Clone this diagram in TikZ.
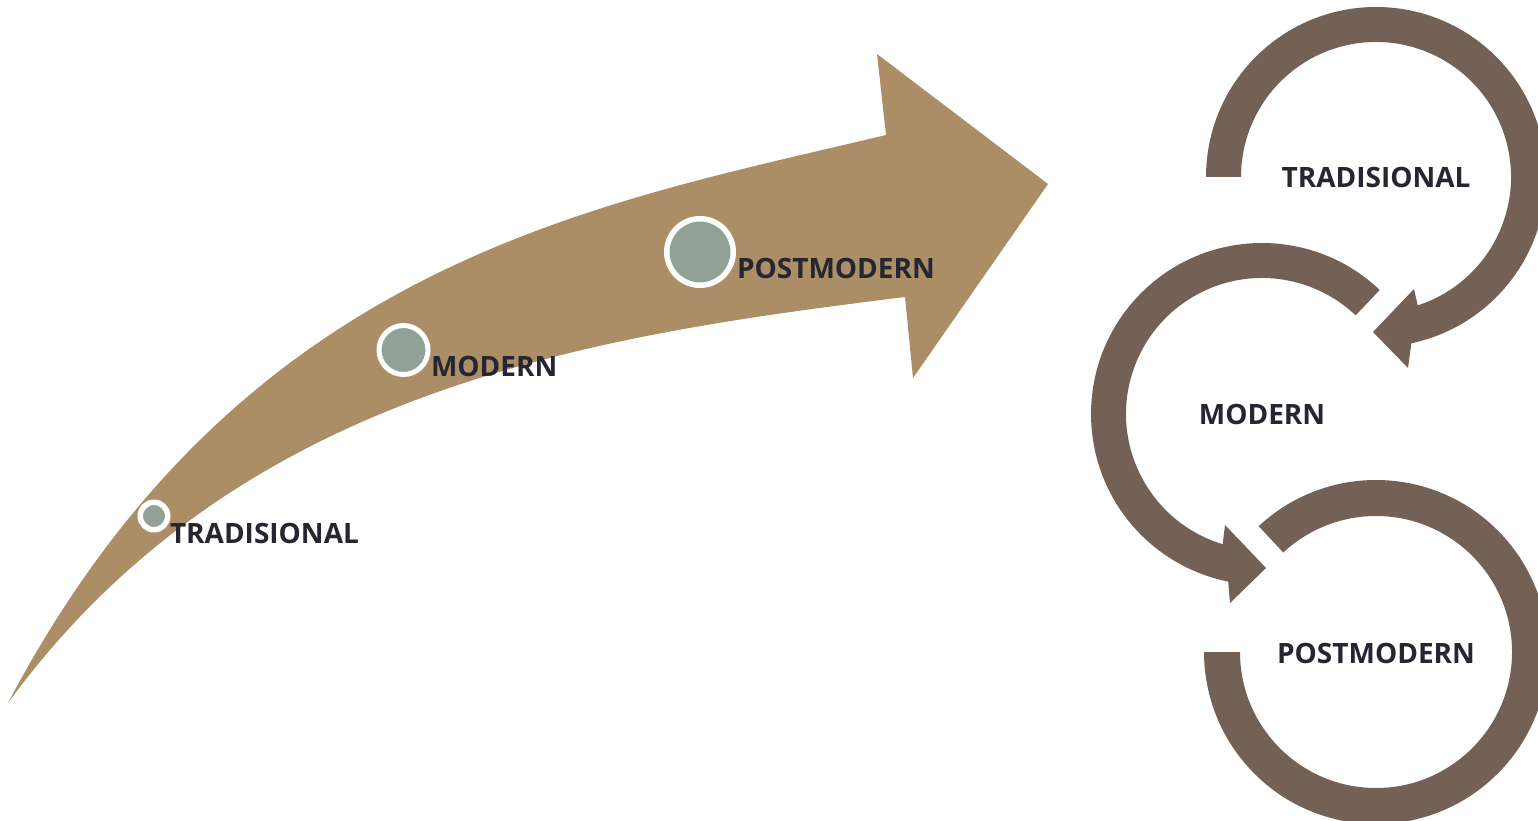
\documentclass[tikz,border=0pt]{standalone}
\usepackage{fontspec}
\setmainfont{Open Sans}
\usetikzlibrary{calc}
\definecolor{arrowtan}{RGB}{172,142,102}
\definecolor{ringbrown}{RGB}{116,97,86}
\definecolor{dotgrey}{RGB}{145,161,152}
\definecolor{labeltext}{RGB}{38,38,50}
\begin{document}
\begin{tikzpicture}[x=1pt,y=1pt,
  lbl/.style={font=\fontsize{28}{30}\selectfont\bfseries, text=labeltext, inner sep=0pt, outer sep=0pt},
  dot/.style={circle, draw=white, fill=dotgrey, inner sep=0pt, outer sep=0pt},
  ring/.style={fill=ringbrown}]
\useasboundingbox (0,0) rectangle (1538,820);
\fill[white] (0,0) rectangle (1538,820);
\clip (0,0) rectangle (1538,820);

% big curved arrow
\fill[arrowtan] (8,117) .. controls (241,559) and (594,615) .. (886,685)
  -- (877,766) -- (1048,636) -- (913,442) -- (905,523)
  .. controls (600,485) and (240,435) .. (8,117) -- cycle;

% dots on the arrow
\node[dot, line width=5.5pt, minimum size=27.5pt] (d1) at (154,304) {};
\node[dot, line width=5pt, minimum size=49pt] (d2) at (403.5,470) {};
\node[dot, line width=5.5pt, minimum size=66.5pt] (d3) at (700,568) {};

\node[lbl, anchor=base west] (t1) at (170,277) {TRADISIONAL};
\node[lbl, anchor=base west] (t2) at (431,443) {MODERN};
\node[lbl, anchor=base west] (t3) at (737,541) {POSTMODERN};

% circular arrows
\coordinate (C1) at (1376,643);
\coordinate (C2) at (1262,406);
\coordinate (C3) at (1376,168);

\fill[ring] ($(C1)+(180:170)$) arc[start angle=180, end angle=-78, radius=170]
  -- (1408,452) -- (1373,488) -- (1414,531)
  -- ($(C1)+(-72:135)$) arc[start angle=-72, end angle=180, radius=135] -- cycle;

\fill[ring] ($(C2)+(46.5:171)$) arc[start angle=46.5, end angle=258.6, radius=171]
  -- (1230,217) -- (1266,252) -- (1225,295)
  -- ($(C2)+(253.2:136)$) arc[start angle=253.2, end angle=46.5, radius=136] -- cycle;

\fill[ring] ($(C3)+(133:172)$) arc[start angle=133, end angle=-180, radius=172]
  -- ($(C3)+(-180:136)$) arc[start angle=-180, end angle=133, radius=136] -- cycle;

\node[lbl, anchor=base] (r1) at (1376,632) {TRADISIONAL};
\node[lbl, anchor=base] (r2) at (1262,395) {MODERN};
\node[lbl, anchor=base] (r3) at (1376,157) {POSTMODERN};
\end{tikzpicture}
\end{document}
